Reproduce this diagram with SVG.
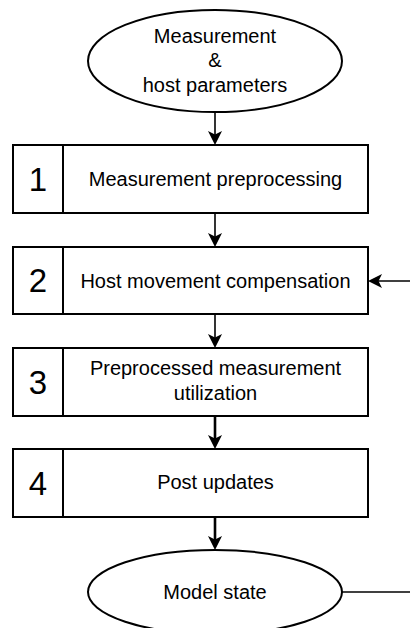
<svg xmlns="http://www.w3.org/2000/svg" width="410" height="628" viewBox="0 0 410 628">
  <style>
    .shape { fill: #ffffff; stroke: #000000; stroke-width: 2; }
    .div { stroke: #000000; stroke-width: 2; }
    .label { font-family: "Liberation Sans", Arial, sans-serif; font-size: 20px; fill: #000000; text-anchor: middle; }
    .num { font-family: "Liberation Sans", Arial, sans-serif; font-size: 33px; fill: #000000; text-anchor: middle; }
    .conn { fill: none; stroke: #000000; stroke-width: 1.6; }
    .conn.bold { stroke-width: 2.6; }
  </style>
  <defs>
    <marker id="arrow" viewBox="0 0 14 14" refX="9" refY="7" markerWidth="14" markerHeight="14" markerUnits="userSpaceOnUse" orient="auto">
      <path d="M0,0 L14,7 L0,14 L3.5,7 Z" fill="#000000"/>
    </marker>
  </defs>

  <rect width="410" height="628" fill="#ffffff"/>

  <!-- connectors -->
  <g id="connectors">
    <line class="conn" x1="215" y1="112" x2="215" y2="140" marker-end="url(#arrow)"/>
    <line class="conn" x1="215" y1="213" x2="215" y2="242" marker-end="url(#arrow)"/>
    <line class="conn" x1="215" y1="314" x2="215" y2="343" marker-end="url(#arrow)"/>
    <line class="conn bold" x1="215" y1="416" x2="215" y2="444" marker-end="url(#arrow)"/>
    <line class="conn bold" x1="215" y1="517" x2="215" y2="545" marker-end="url(#arrow)"/>
    <line class="conn" x1="410" y1="281" x2="373" y2="281" marker-end="url(#arrow)"/>
    <line class="conn" x1="342" y1="592" x2="410" y2="592"/>
  </g>

  <!-- input terminal -->
  <g id="input">
    <ellipse class="shape" cx="215" cy="61" rx="127" ry="51"/>
    <text class="label" x="215" y="43">Measurement</text>
    <text class="label" x="215" y="67">&amp;</text>
    <text class="label" x="215" y="92">host parameters</text>
  </g>

  <!-- processing steps -->
  <g id="step1">
    <rect class="shape" x="13" y="145" width="355" height="68"/>
    <line class="div" x1="63" y1="145" x2="63" y2="213"/>
    <text class="num" x="38" y="191">1</text>
    <text class="label" x="215.5" y="186">Measurement preprocessing</text>
  </g>

  <g id="step2">
    <rect class="shape" x="13" y="247" width="355" height="67"/>
    <line class="div" x1="63" y1="247" x2="63" y2="314"/>
    <text class="num" x="38" y="292">2</text>
    <text class="label" x="215.5" y="288">Host movement compensation</text>
  </g>

  <g id="step3">
    <rect class="shape" x="13" y="348" width="355" height="68"/>
    <line class="div" x1="63" y1="348" x2="63" y2="416"/>
    <text class="num" x="38" y="394">3</text>
    <text class="label" x="215.5" y="375">Preprocessed measurement</text>
    <text class="label" x="215.5" y="400">utilization</text>
  </g>

  <g id="step4">
    <rect class="shape" x="13" y="449" width="355" height="68"/>
    <line class="div" x1="63" y1="449" x2="63" y2="517"/>
    <text class="num" x="38" y="495">4</text>
    <text class="label" x="215.5" y="489">Post updates</text>
  </g>

  <!-- output terminal -->
  <g id="output">
    <ellipse class="shape" cx="215" cy="592" rx="127" ry="42"/>
    <text class="label" x="215" y="599">Model state</text>
  </g>
</svg>
